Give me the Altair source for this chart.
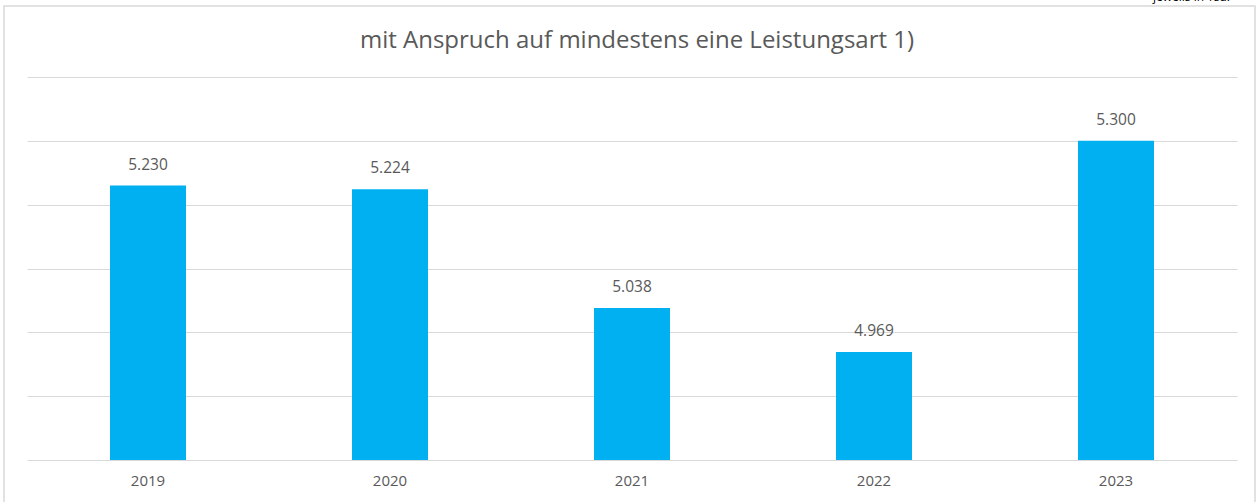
import altair as alt
import pandas as pd

years = ["2019", "2020", "2021", "2022", "2023"]
values = [5230, 5224, 5038, 4969, 5300]
labels = ["5.230", "5.224", "5.038", "4.969", "5.300"]
title_text = "mit Anspruch auf mindestens eine Leistungsart 1)"
unit_text = "jeweils in Tsd."

df = pd.DataFrame({"year": years, "value": values, "label": labels})

W, H = 1210, 383
FONT = "Open Sans"
TXT = "#595959"

x_enc = alt.X("year:N", sort=years,
              scale=alt.Scale(paddingInner=0, paddingOuter=0),
              axis=alt.Axis(title=None, labelAngle=0, domain=False, ticks=False, grid=False,
                            labelFont=FONT, labelFontSize=15, labelColor=TXT,
                            labelPadding=13))
y_enc = alt.Y("value:Q", scale=alt.Scale(domain=[4800, 5400], zero=False, nice=False),
              axis=alt.Axis(title=None, labels=False, ticks=False, domain=False,
                            values=[4800, 4900, 5000, 5100, 5200, 5300, 5400],
                            gridColor="#D9D9D9", gridWidth=1))

base = alt.Chart(df)

bars = base.mark_bar(color="#00B0F0", size=76, clip=True).encode(x=x_enc, y=y_enc)

text = base.mark_text(font=FONT, fontSize=15.5, color=TXT, dy=-21).encode(
    x=alt.X("year:N", sort=years), y="value:Q", text="label:N")

title = alt.Chart(pd.DataFrame({"t": [title_text]})).mark_text(
    font=FONT, fontSize=24, color=TXT, align="center", baseline="middle"
).encode(x=alt.value(W / 2 + 5), y=alt.value(-36), text="t:N")

unit = alt.Chart(pd.DataFrame({"t": [unit_text]})).mark_text(
    font=FONT, fontSize=12, color="#000000", align="right", baseline="alphabetic"
).encode(x=alt.value(1203), y=alt.value(-76), text="t:N")

frame = alt.Chart(pd.DataFrame({"a": [0]})).mark_rect(
    fill="transparent", stroke="#D9D9D9", strokeWidth=1.5
).encode(x=alt.value(-23), x2=alt.value(1228), y=alt.value(-71), y2=alt.value(H + 80))

chart = alt.layer(frame, bars, text, title, unit).properties(
    width=W, height=H,
    background="white",
    autosize=alt.AutoSizeParams(type="none"),
    padding={"left": 27, "top": 77, "right": 22, "bottom": 42},
).configure_view(stroke="transparent", strokeWidth=0)

chart.save("out.html", embed_options={"renderer": "svg", "actions": False})
